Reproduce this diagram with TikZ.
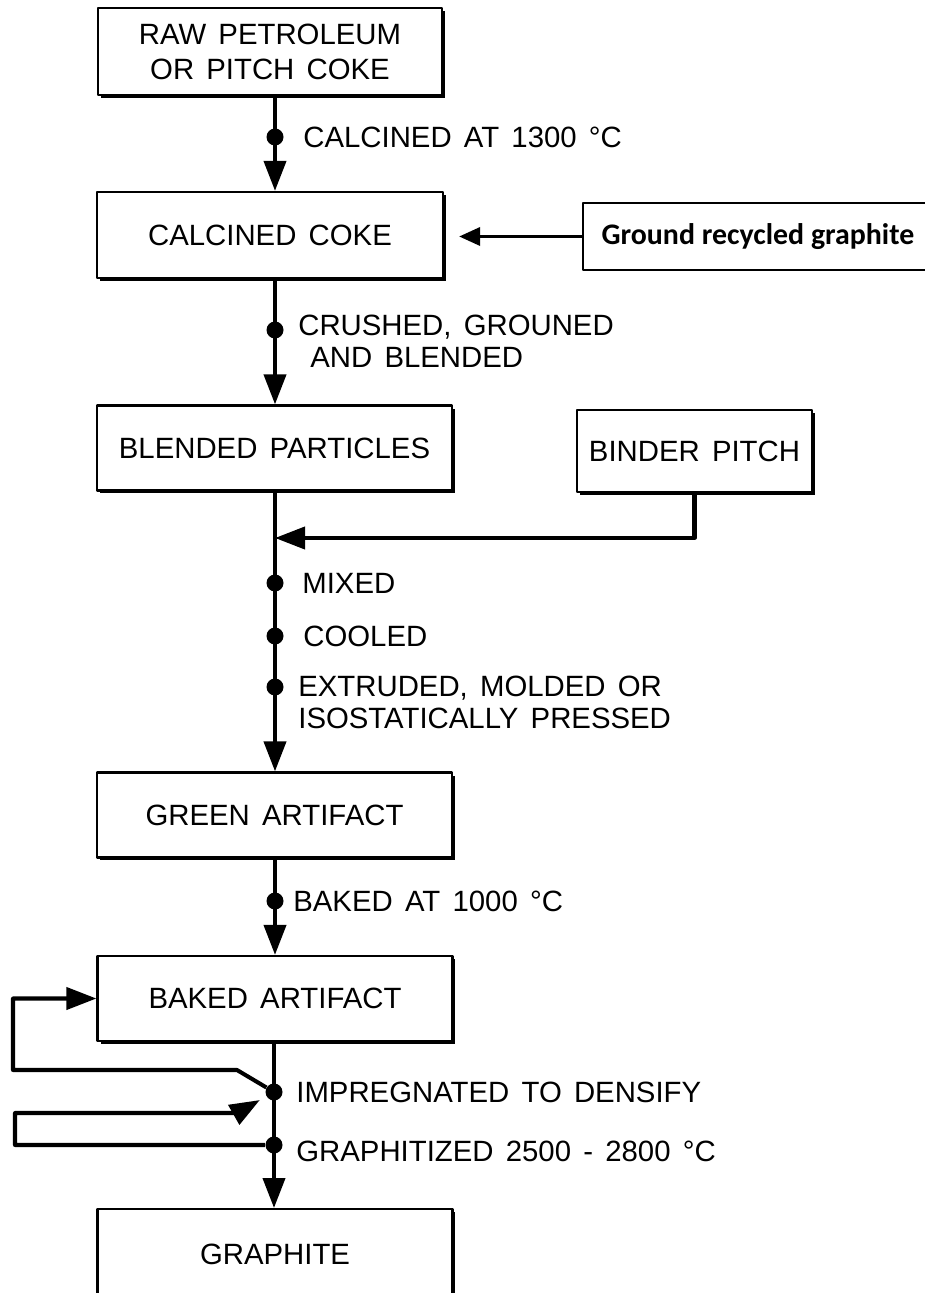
\documentclass[tikz,border=0pt]{standalone}
\usepackage{fontspec}
\setmainfont{Liberation Sans}[WordSpace=1.5]
\newfontfamily\calib{Carlito}
\usetikzlibrary{arrows.meta,shadows}

\begin{document}
\begin{tikzpicture}[x=0.02cm,y=-0.02cm,line join=round,>={Triangle[width=0.44cm,length=0.6cm]},font=\fontsize{16.7}{18}\selectfont,
	box/.style={draw,line width=1.3pt,fill=white,minimum width=7.1cm,minimum height=1.7cm,drop shadow={shadow xshift=0.06cm,shadow yshift=-0.06cm,fill=black,opacity=1}},
	bullet/.style={circle,fill,inner sep=0pt,minimum size=0.34cm},
	lbl/.style={anchor=west,align=left,inner sep=0pt},
	flow/.style={line width=2.3pt}]
			\clip (0,0) rectangle (925,1293);
			%Hộp
			\node[box,align=center,minimum width=6.88cm,minimum height=1.74cm,font=\fontsize{16.7}{20}\selectfont] (raw) at (270,51.5) {RAW PETROLEUM\\OR PITCH COKE};
			\node[box,minimum width=6.92cm,minimum height=1.72cm] (calc) at (270,235) {CALCINED COKE};
			\node[box] (blend) at (274.5,448) {BLENDED PARTICLES};
			\node[box,minimum width=4.7cm,minimum height=1.64cm] (binder) at (694.5,451) {BINDER PITCH};
			\node[box] (green) at (274.5,815) {GREEN ARTIFACT};
			\node[box] (baked) at (275,998.5) {BAKED ARTIFACT};
			\node[box,anchor=north,minimum height=0pt,inner ysep=0.3cm,text height=0.8cm,text depth=2cm] (graph) at (275,1208) {GRAPHITE};
			\node[draw,line width=1.1pt,anchor=west,minimum width=7cm,minimum height=1.34cm,font=\calib\bfseries\fontsize{17}{20}\selectfont] (ground) at (582,236.5) {Ground recycled graphite};
			
			%Chấm
			\node[bullet] (d1) at (275,137) {};
			\node[bullet] (d2) at (275,330) {};
			\node[bullet] (d3) at (275,583) {};
			\node[bullet] (d4) at (275,636) {};
			\node[bullet] (d5) at (275,687) {};
			\node[bullet] (d6) at (275,901) {};
			\node[bullet] (d7) at (274,1092) {};
			\node[bullet] (d8) at (274,1145) {};
			\coordinate (join) at (275,538);
			
			%Mũi tên
			\draw[flow,->] (raw.south -| d1) -- (calc.north -| d1);
			\draw[flow,->] (calc.south -| d2) -- (blend.north -| d2);
			\draw[flow,->] (blend.south -| join) -- (green.north -| join);
			\draw[flow,->] (green.south -| d6) -- (baked.north -| d6);
			\draw[flow,->] (baked.south -| d7) -- (graph.north -| d7);
			\draw[flow,->] (binder.south) |- (join);
			\draw[line width=2pt,-{Triangle[width=0.36cm,length=0.42cm]},shorten >=0.3cm] (ground.west) -- (calc.east |- ground.west);
			
			%Vòng lặp
			\draw[flow,->] (d7) -- (237,1070) -- (13,1070) |- (baked.west);
			\draw[flow,->,shorten >=0.15cm] (d8) -- (15,1145) -- (15,1113) -- (237,1113) -- (d7);
			
			%Nhãn
			\node[lbl] (t1) at (303,137) {CALCINED AT 1300 °C};
			\node[lbl] (t2) at (298,341.5) {CRUSHED, GROUNED\\\hspace{0.24cm}AND BLENDED};
			\node[lbl] (t3) at (302,583) {MIXED};
			\node[lbl] (t4) at (303,636) {COOLED};
			\node[lbl] (t5) at (298,702.5) {EXTRUDED, MOLDED OR\\ISOSTATICALLY PRESSED};
			\node[lbl] (t6) at (293,901) {BAKED AT 1000 °C};
			\node[lbl] (t7) at (296,1092) {IMPREGNATED TO DENSIFY};
			\node[lbl] (t8) at (296,1151) {GRAPHITIZED 2500 - 2800 °C};
		\end{tikzpicture}
\end{document}
